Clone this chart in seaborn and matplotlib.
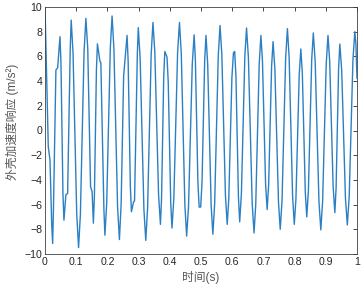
import numpy as np
import pandas as pd
import seaborn as sns
import matplotlib.pyplot as plt

# Shell acceleration response
# (peaks, troughs, shoulders and a few points on each flank)
time_s = [0.000, 0.0105, 0.016, 0.0215, 0.0245, 0.027, 0.035, 0.0405, 0.048, 0.0512,
          0.0575, 0.0607, 0.067, 0.0725, 0.081, 0.084, 0.0899, 0.1017, 0.1076, 0.1135,
          0.1252, 0.131, 0.137, 0.146, 0.151, 0.155, 0.1583, 0.1648, 0.168, 0.176,
          0.179, 0.1888, 0.192, 0.1978, 0.2093, 0.215, 0.2209, 0.2326, 0.2385, 0.244,
          0.252, 0.263, 0.2665, 0.2735, 0.277, 0.284, 0.287, 0.296, 0.299, 0.305,
          0.317, 0.323, 0.3288, 0.3403, 0.346, 0.352, 0.364, 0.370, 0.3735, 0.3805,
          0.384, 0.391, 0.395, 0.403, 0.407, 0.413, 0.425, 0.431, 0.4368, 0.4483,
          0.454, 0.460, 0.472, 0.478, 0.482, 0.490, 0.494, 0.499, 0.5033, 0.5118,
          0.516, 0.5215, 0.5325, 0.538, 0.5438, 0.5553, 0.561, 0.5668, 0.5783, 0.584,
          0.589, 0.599, 0.604, 0.608, 0.612, 0.620, 0.624, 0.6295, 0.6405, 0.646,
          0.652, 0.664, 0.670, 0.6755, 0.6865, 0.692, 0.697, 0.707, 0.712, 0.7168,
          0.7263, 0.731, 0.7368, 0.7483, 0.754, 0.7598, 0.7713, 0.777, 0.7825, 0.7935,
          0.799, 0.8043, 0.8148, 0.820, 0.8248, 0.8343, 0.839, 0.8443, 0.8548, 0.860,
          0.866, 0.878, 0.884, 0.8898, 0.9013, 0.907, 0.9125, 0.9235, 0.929, 0.933,
          0.941, 0.945, 0.951, 0.963, 0.969, 0.975, 0.987, 0.993, 0.9965, 1.000]
accel = [10.0, -1.3, -2.4, -7.6, -9.15, -6.5, 4.9, 5.07, 7.6, 5.42,
         -5.08, -7.26, -5.2, -5.1, 6.8, 8.94, 6.24, -6.78, -9.48, -6.76,
         6.36, 9.08, 6.65, -4.55, -4.96, -7.5, -5.37, 4.89, 7.02, 5.6,
         5.5, -6.4, -8.48, -5.88, 6.67, 9.27, 6.62, -6.18, -8.83, -6.0,
         4.4, 7.7, 5.61, -4.49, -6.58, -5.77, -5.7, 6.27, 8.33, 5.81,
         -6.38, -8.9, -6.31, 6.16, 8.75, 6.35, -5.2, -7.6, -5.55, 4.35,
         6.4, 5.95, 3.92, -5.87, -7.9, -5.46, 6.31, 8.75, 6.22, -6.02,
         -8.55, -6.16, 5.36, 7.75, 5.71, -4.16, -6.2, -6.2, -4.16, 5.66,
         7.7, 5.34, -6.04, -8.4, -5.92, 6.02, 8.5, 6.14, -5.24, -7.6,
         -5.56, 4.26, 6.3, 6.4, 4.38, -5.38, -7.4, -5.1, 6.0, 8.3,
         5.87, -5.87, -8.3, -5.96, 5.36, 7.7, 5.63, -4.33, -6.4, -4.41,
         5.21, 7.2, 4.97, -5.77, -8.0, -5.62, 5.87, 8.25, 5.93, -5.28,
         -7.6, -5.52, 4.52, 6.6, 4.61, -5.01, -7.0, -4.82, 5.72, 7.9,
         5.56, -5.71, -8.05, -5.74, 5.39, 7.7, 5.6, -4.55, -6.65, -4.65,
         5.0, 7.0, 4.85, -5.5, -7.65, -5.36, 5.71, 8.0, 7.0, 4.2]

x_ticks = [0, 0.1, 0.2, 0.3, 0.4, 0.5, 0.6, 0.7, 0.8, 0.9, 1]
x_tick_labels = ['0', '0.1', '0.2', '0.3', '0.4', '0.5', '0.6', '0.7', '0.8', '0.9', '1']
y_ticks = [-10, -8, -6, -4, -2, 0, 2, 4, 6, 8, 10]

df = pd.DataFrame({'t': time_s, 'a': accel})

sns.set_theme(style='white')
plt.rcParams['font.family'] = ['Liberation Sans', 'Noto Sans CJK SC', 'DejaVu Sans']

fig = plt.figure(figsize=(3.64, 2.90), dpi=100)
ax = fig.add_axes([45 / 364, 36 / 290, 312 / 364, 247 / 290])

sns.lineplot(data=df, x='t', y='a', ax=ax, sort=False, estimator=None,
             color='#2b80c4', linewidth=1.0)

ax.set_xlim(0, 1)
ax.set_ylim(-10, 10)
ax.set_xticks(x_ticks)
ax.set_xticklabels(x_tick_labels)
ax.set_yticks(y_ticks)
ax.tick_params(direction='in', length=3, width=0.6, top=True, right=True,
               labelsize=7.6, colors='#262626', pad=2)
for sp in ax.spines.values():
    sp.set_color('#404040')
    sp.set_linewidth(0.6)

ax.set_xlabel('时间(s)', fontsize=8.5, color='#555555', labelpad=3)
ax.set_ylabel('外壳加速度响应 (m/s²)', fontsize=8.5, color='#555555')
ax.yaxis.set_label_coords(-0.082, 0.534)
ax.grid(False)

fig.savefig('out.png', dpi=100)
